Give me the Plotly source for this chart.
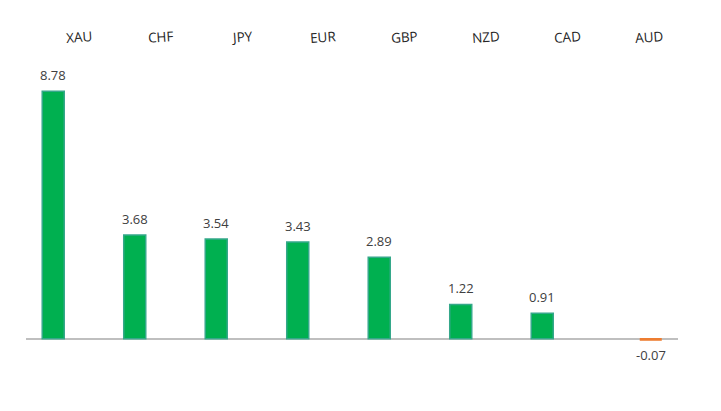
import plotly.graph_objects as go

categories = ["XAU", "CHF", "JPY", "EUR", "GBP", "NZD", "CAD", "AUD"]
values = [8.78, 3.68, 3.54, 3.43, 2.89, 1.22, 0.91, -0.07]

pos_vals = [v if v >= 0 else None for v in values]
neg_vals = [v if v < 0 else None for v in values]

fig = go.Figure()
fig.add_trace(go.Bar(
    x=categories, y=pos_vals,
    marker=dict(color="#00B050", line=dict(color="#35A88A", width=1.5)),
    showlegend=False,
))
fig.add_trace(go.Bar(
    x=categories, y=neg_vals,
    marker=dict(color="#ED7D31", line=dict(width=0)),
    showlegend=False,
))

label_font = dict(family="Open Sans", size=13, color="#404040")
for c, v in zip(categories, values):
    if v >= 0:
        fig.add_annotation(x=c, y=v, xref="x", yref="y", text=f"{v:.2f}",
                           showarrow=False, yanchor="bottom", yshift=5,
                           xshift=-13.5, font=label_font)
    else:
        fig.add_annotation(x=c, y=v, xref="x", yref="y", text=f"{v:.2f}",
                           showarrow=False, yanchor="top", yshift=-3,
                           xshift=13.5, font=label_font)

for c in categories:
    fig.add_annotation(
        x=c, y=1, xref="x", yref="paper", text=c, showarrow=False,
        yanchor="middle", yshift=34, xshift=12, textangle=-4,
        font=dict(family="Open Sans", size=13.5, color="#262626"),
    )

fig.update_layout(
    width=721, height=411,
    margin=dict(l=18, r=51, t=63, b=52),
    paper_bgcolor="white", plot_bgcolor="white",
    barmode="group", bargap=0.337, bargroupgap=0.185,
    xaxis=dict(showticklabels=False, showgrid=False, zeroline=False,
               showline=False, ticks=""),
    yaxis=dict(range=[-1, 9.5], showticklabels=False, showgrid=False,
               zeroline=True, zerolinecolor="#BFBFBF", zerolinewidth=2,
               showline=False, ticks=""),
)

fig.write_html("out.html")
